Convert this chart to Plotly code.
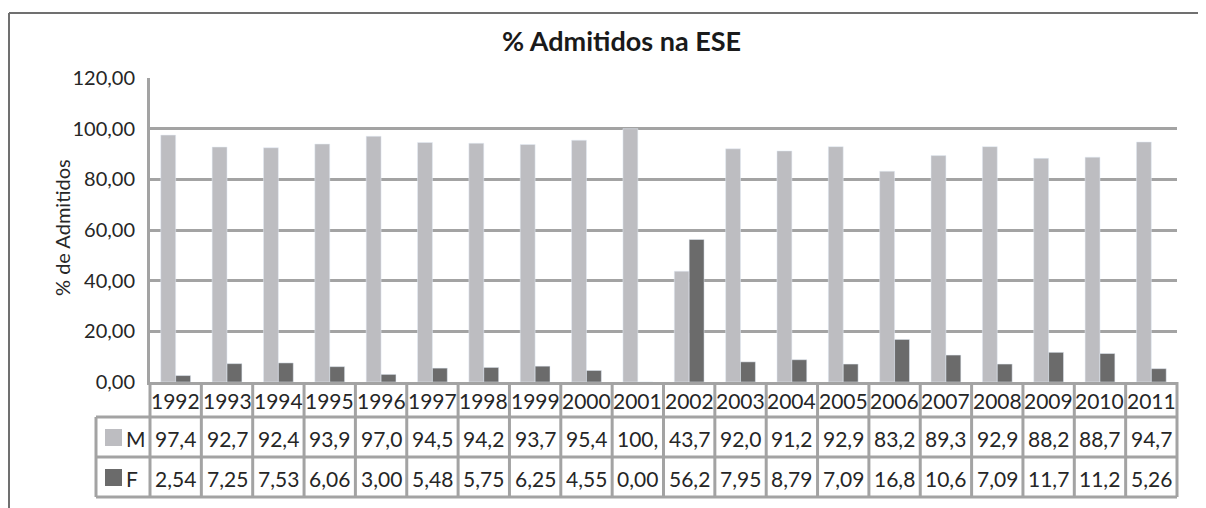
import plotly.graph_objects as go

years = [str(y) for y in range(1992, 2012)]
m_vals = [97.46, 92.75, 92.47, 93.94, 97.00, 94.52, 94.25, 93.75, 95.45, 100.00,
          43.75, 92.05, 91.21, 92.91, 83.20, 89.36, 92.91, 88.29, 88.76, 94.74]
f_vals = [2.54, 7.25, 7.53, 6.06, 3.00, 5.48, 5.75, 6.25, 4.55, 0.00,
          56.25, 7.95, 8.79, 7.09, 16.80, 10.64, 7.09, 11.71, 11.24, 5.26]

M_COLOR = '#bdbdc1'
F_COLOR = '#6b6b6b'
GRID = '#a3a3a3'
TXT = '#262626'
FONT = 'Lato'

# the page body has an 8px margin, so the figure is drawn 8px smaller and
# all screen positions below are given in window pixels and shifted by OFF
OFF = 8
W, H = 1206 - OFF, 508 - OFF
L, T = 150 - OFF, 78 - OFF
R, B = W - (1177 - OFF), H - (382 - OFF)
PW, PH = W - L - R, H - T - B


def px(x):
    # window pixel column -> paper x
    return (x - OFF - L) / PW


def py(y):
    # window pixel row -> paper y
    return (H - B - (y - OFF)) / PH


def cell_text(v):
    # Excel truncates the value to the column width
    return f'{v:.2f}'.replace('.', ',')[:4]


fig = go.Figure()
fig.add_trace(go.Bar(x=years, y=m_vals, name='M', marker_color=M_COLOR))
fig.add_trace(go.Bar(x=years, y=f_vals, name='F', marker_color=F_COLOR))

shapes = []
annotations = []

# outer chart frame (cropped)
shapes.append(dict(type='line', xref='paper', yref='paper', x0=px(9), x1=px(1215),
                   y0=py(13), y1=py(13), line=dict(color='#707070', width=2)))
shapes.append(dict(type='line', xref='paper', yref='paper', x0=px(9), x1=px(9),
                   y0=py(13), y1=py(515), line=dict(color='#707070', width=2)))

# data table
row_year = (382, 417)
row_m = (417, 457)
row_f = (457, 497)
n = len(years)
line = dict(color=GRID, width=3)
for yb in [row_year[1], row_m[1], row_f[1]]:
    shapes.append(dict(type='line', xref='paper', yref='paper', x0=px(96), x1=1,
                       y0=py(yb), y1=py(yb), line=line))
for k in range(n + 1):
    shapes.append(dict(type='line', xref='paper', yref='paper', x0=k / n, x1=k / n,
                       y0=py(row_year[0]), y1=py(row_f[1]), line=line))
shapes.append(dict(type='line', xref='paper', yref='paper', x0=px(96), x1=px(96),
                   y0=py(row_m[0]), y1=py(row_f[1]), line=line))

# legend keys in table
for name, color, row in [('M', M_COLOR, row_m), ('F', F_COLOR, row_f)]:
    mid = (row[0] + row[1]) / 2
    shapes.append(dict(type='rect', xref='paper', yref='paper', x0=px(105), x1=px(122),
                       y0=py(mid - 8), y1=py(mid + 9), fillcolor=color, line=dict(width=0)))
    annotations.append(dict(xref='paper', yref='paper', x=px(124), y=py(mid + 1),
                            xanchor='left', yanchor='middle', text=name, showarrow=False,
                            font=dict(family=FONT, size=21, color=TXT)))

cell_font = dict(family=FONT, size=21, color=TXT)
for i, yr in enumerate(years):
    annotations.append(dict(xref='x', yref='paper', x=i, y=py(sum(row_year) / 2 + 1),
                            text=yr, showarrow=False, yanchor='middle', font=cell_font))
    annotations.append(dict(xref='x', yref='paper', x=i, y=py(sum(row_m) / 2 + 1),
                            text=cell_text(m_vals[i]), showarrow=False, yanchor='middle',
                            font=cell_font))
    annotations.append(dict(xref='x', yref='paper', x=i, y=py(sum(row_f) / 2 + 1),
                            text=cell_text(f_vals[i]), showarrow=False, yanchor='middle',
                            font=cell_font))

# title and y title
annotations.append(dict(xref='paper', yref='paper', x=px(621), y=py(40),
                        text='<b>% Admitidos na ESE</b>', showarrow=False, yanchor='middle',
                        font=dict(family=FONT, size=27, color='#1a1a1a')))
annotations.append(dict(xref='paper', yref='paper', x=px(62), y=py(228), text='% de Admitidos',
                        showarrow=False, textangle=-90, xanchor='center', yanchor='middle',
                        font=dict(family=FONT, size=20, color=TXT)))

fig.update_layout(
    width=W, height=H,
    margin=dict(l=L, r=R, t=T, b=B),
    paper_bgcolor='white', plot_bgcolor='white',
    separators=', ',
    barmode='group', bargap=0.42, bargroupgap=0,
    showlegend=False,
    shapes=shapes, annotations=annotations,
    font=dict(family=FONT, color=TXT),
)
fig.update_xaxes(type='category', showticklabels=False, ticks='', showgrid=False,
                 showline=True, linecolor=GRID, linewidth=3, range=[-0.5, n - 0.5])
fig.update_yaxes(range=[0, 120], dtick=20, tickformat='.2f', showgrid=True, gridcolor=GRID,
                 gridwidth=3, zeroline=False, showline=True, linecolor=GRID, linewidth=3,
                 ticks='', ticklabelstandoff=8, tickfont=dict(family=FONT, size=20, color=TXT))

fig.write_html('out.html')
